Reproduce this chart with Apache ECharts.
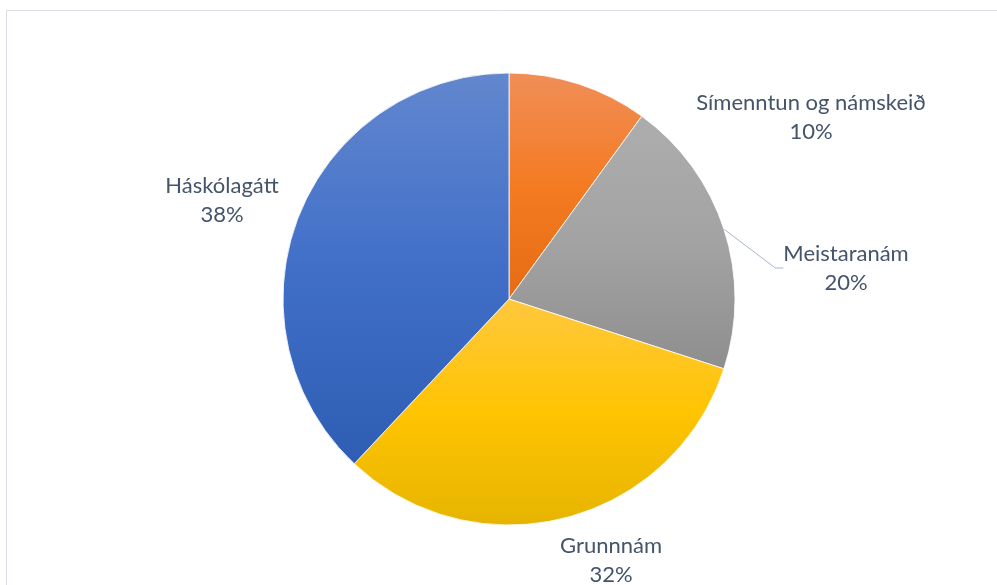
<!DOCTYPE html>
<html>
<head>
<meta charset="utf-8">
<script src="https://cdn.jsdelivr.net/npm/echarts@6/dist/echarts.min.js"></script>
<style>
  html, body { margin: 0; padding: 0; background: #fff; }
  #chart { width: 997px; height: 585px; }
</style>
</head>
<body>
<div id="chart"></div>
<script>
// data
var categories = ['Símenntun og námskeið', 'Meistaranám', 'Grunnnám', 'Háskólagátt'];
var shares = [10, 20, 32, 38];

// gradient fills, office style (light top, base middle, darker bottom)
var fills = [
  ['#F08E58', '#F47B22', '#E56C12'],
  ['#ADADAD', '#A3A3A3', '#8E8E8E'],
  ['#FFC83E', '#FFC402', '#E6B400'],
  ['#6287CE', '#416FC8', '#2E5DB3']
];

// where each label sits (centre of the two line block)
var labelSpots = [
  [811, 117],
  [846, 268],
  [611, 560],
  [222, 200]
];

function grad(c) {
  return new echarts.graphic.LinearGradient(0, 0, 0, 1, [
    { offset: 0, color: c[0] },
    { offset: 0.5, color: c[1] },
    { offset: 1, color: c[2] }
  ]);
}

var pieData = [];
for (var i = 0; i < categories.length; i++) {
  pieData.push({
    name: categories[i],
    value: shares[i],
    itemStyle: { color: grad(fills[i]) },
    labelLine: { show: i === 1 }
  });
}

var chartDom = document.getElementById('chart');
var myChart = echarts.init(chartDom);

var option = {
  animation: false,
  graphic: [
    {
      type: 'rect',
      left: 4,
      top: 8,
      shape: { width: 1100, height: 700 },
      style: { fill: 'none', stroke: '#d9dde3', lineWidth: 1 },
      silent: true
    }
  ],
  series: [
    {
      type: 'pie',
      center: [509, 299],
      radius: [0, 226],
      startAngle: 90,
      clockwise: true,
      data: pieData,
      itemStyle: { borderColor: '#ffffff', borderWidth: 0.8 },
      label: {
        show: true,
        position: 'outside',
        formatter: function (p) { return p.name + '\n' + Math.round(p.percent) + '%'; },
        fontFamily: 'Lato',
        fontSize: 22,
        lineHeight: 29,
        color: '#44546A',
        align: 'center'
      },
      labelLine: {
        length: 20,
        length2: 8,
        lineStyle: { color: '#A6B6CC', width: 1 }
      },
      labelLayout: function (params) {
        var s = labelSpots[params.dataIndex];
        return { x: s[0], y: s[1], align: 'center', verticalAlign: 'middle' };
      }
    }
  ]
};

option && myChart.setOption(option);
</script>
</body>
</html>
